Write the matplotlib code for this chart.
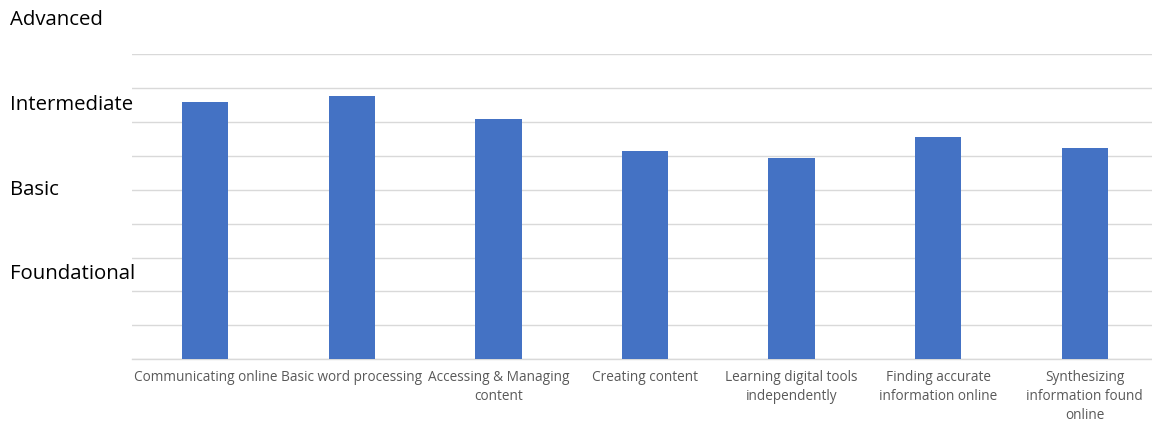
import matplotlib
matplotlib.use("Agg")
import matplotlib.pyplot as plt
import matplotlib.transforms as mtransforms

# Self-rated digital skill levels
skills = [
    "Communicating online",
    "Basic word processing",
    "Accessing & Managing\ncontent",
    "Creating content",
    "Learning digital tools\nindependently",
    "Finding accurate\ninformation online",
    "Synthesizing\ninformation found\nonline",
]
scores = [3.79, 3.88, 3.54, 3.07, 2.97, 3.27, 3.11]

level_names = ["Foundational", "Basic", "Intermediate", "Advanced"]
level_values = [1.25, 2.5, 3.75, 5.0]

plt.rcParams["font.family"] = ["Open Sans", "DejaVu Sans"]

fig = plt.figure(figsize=(11.52, 4.24), dpi=100)
ax = fig.add_axes([0.1146, 0.1526, 0.8906, 0.7200])

x = list(range(len(skills)))
ax.bar(x, scores, width=0.315, color="#4472C4", zorder=3)

ax.set_xlim(-0.5, 6.5)
ax.set_ylim(0, 4.5)
ax.set_yticks([i * 0.5 for i in range(10)])
ax.set_yticklabels([])
ax.tick_params(axis="y", length=0)
ax.grid(axis="y", color="#d9d9d9", linewidth=1.0, zorder=0)

ax.set_xticks(x)
ax.set_xticklabels(skills, fontsize=9.8, color="#595959", linespacing=1.36)
ax.tick_params(axis="x", length=0, pad=8)

for side in ["top", "right", "left"]:
    ax.spines[side].set_visible(False)
ax.spines["bottom"].set_color("#d9d9d9")
ax.spines["bottom"].set_linewidth(1.0)

# level names sit left of the plot, aligned to the score scale
trans = mtransforms.blended_transform_factory(fig.transFigure, ax.transData)
for name, val in zip(level_names, level_values):
    ax.text(0.009, val, name, transform=trans, ha="left", va="center",
            fontsize=14.7, color="#000000", clip_on=False)

fig.savefig("out.png", dpi=100)
